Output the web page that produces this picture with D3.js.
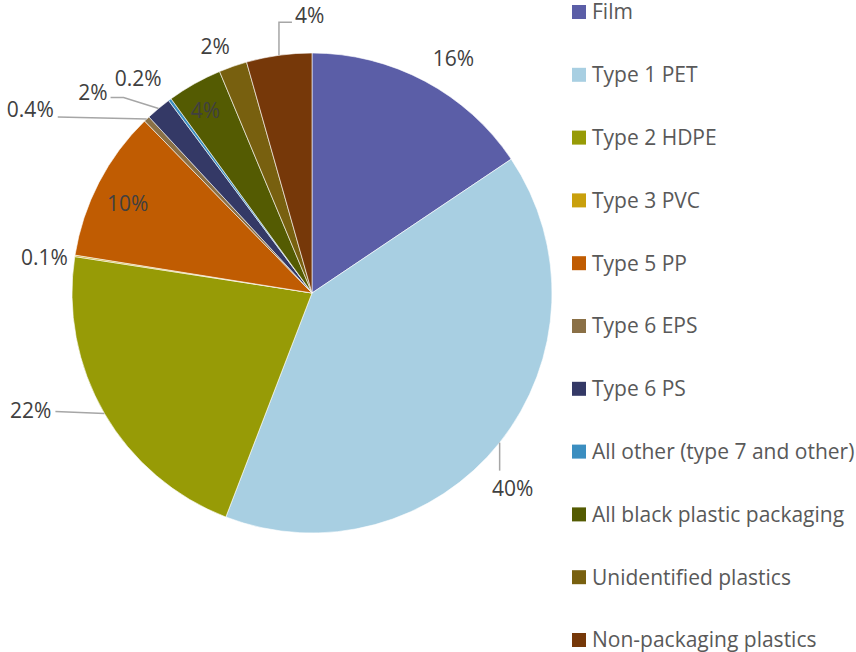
<!DOCTYPE html>
<html>
<head>
<meta charset="utf-8">
<script src="https://cdn.jsdelivr.net/npm/d3@7"></script>
<style>
  html, body { margin: 0; padding: 0; background: #fff; }
  svg { display: block; }
  text { font-family: "Open Sans", Lato, sans-serif; }
</style>
</head>
<body>
<svg id="chart" width="856" height="652"></svg>
<script>
// ---- data ----
const categories = ["Film", "Type 1 PET", "Type 2 HDPE", "Type 3 PVC", "Type 5 PP", "Type 6 EPS",
  "Type 6 PS", "All other (type 7 and other)", "All black plastic packaging", "Unidentified plastics",
  "Non-packaging plastics"];
const shares = [15.6, 40.3, 21.6, 0.1, 10.2, 0.4, 1.7, 0.2, 3.7, 1.9, 4.4];
const shareLabels = ["16%", "40%", "22%", "0.1%", "10%", "0.4%", "2%", "0.2%", "4%", "2%", "4%"];
const colors = ["#5B5EA7", "#A8CFE2", "#979B06", "#C9A00C", "#C05C02", "#8A7046",
  "#343966", "#3B8EC0", "#545B02", "#78600F", "#763809"];

// ---- layout (label placement relative to each slice's mid angle) ----
const labelLayout = [
  {R: 274, dA: 3, anchor: "middle"},
  {leader: [[0, 0], [0, 28]], lx: 13, ly: 46, anchor: "middle"},
  {leader: [[0, 0], [-49, -2]], lx: -53, ly: -3, anchor: "end"},
  {R: 270, dA: -1.3, anchor: "middle"},
  {R: 205, dA: -1.5, anchor: "middle"},
  {leader: [[0, 0], [-89, -2]], lx: -93, ly: -9, anchor: "end"},
  {leader: [[0, 0], [-35, -11], [-48, -11]], lx: -51, ly: -16, anchor: "end"},
  {R: 276, dA: -2.7, anchor: "middle"},
  {R: 211, dA: -1, anchor: "middle"},
  {R: 265, dA: -2.2, anchor: "middle"},
  {leader: [[0, 0], [0, -33], [13, -33]], lx: 16, ly: -40, anchor: "start"}
];

const W = 856, H = 652;
const cx = 312, cy = 293, r = 240;
const fs = 21;
const svg = d3.select("#chart");

const pie = d3.pie().sort(null).value(d => d.v);
const data = categories.map((c, i) => ({c, v: shares[i], lab: shareLabels[i], col: colors[i], lay: labelLayout[i]}));
const arcs = pie(data);
const arc = d3.arc().innerRadius(0).outerRadius(r);

const g = svg.append("g").attr("transform", `translate(${cx},${cy})`);
g.selectAll("path.slice").data(arcs).join("path")
  .attr("class", "slice")
  .attr("d", arc)
  .attr("fill", d => d.data.col)
  .attr("stroke", "#fff")
  .attr("stroke-width", 0.6);

function polar(angle, rad) {
  return [rad * Math.sin(angle), -rad * Math.cos(angle)];
}

arcs.forEach(a => {
  const lay = a.data.lay;
  const mid = (a.startAngle + a.endAngle) / 2;
  let x, y;
  if (lay.leader) {
    const s = polar(mid, r);
    const pts = lay.leader.map(p => [s[0] + p[0], s[1] + p[1]]);
    g.append("polyline")
      .attr("points", pts.map(p => p.join(",")).join(" "))
      .attr("fill", "none")
      .attr("stroke", "#A6A6A6")
      .attr("stroke-width", 1.5);
    x = s[0] + lay.lx; y = s[1] + lay.ly;
  } else {
    [x, y] = polar(mid + lay.dA * Math.PI / 180, lay.R);
  }
  g.append("text")
    .attr("x", x).attr("y", y)
    .attr("dy", "0.35em")
    .attr("text-anchor", lay.anchor)
    .attr("font-size", fs)
    .attr("fill", "#404040")
    .text(a.data.lab);
});

// ---- legend ----
const legY = d3.scalePoint().domain(categories).range([12, 640]);
const leg = svg.append("g");
const items = leg.selectAll("g").data(data).join("g")
  .attr("transform", d => `translate(572,${legY(d.c)})`);
items.append("rect")
  .attr("x", 0).attr("y", -7).attr("width", 14).attr("height", 14)
  .attr("fill", d => d.col);
items.append("text")
  .attr("x", 20).attr("y", 0).attr("dy", "0.35em")
  .attr("font-size", fs)
  .attr("fill", "#595959")
  .text(d => d.c);
</script>
</body>
</html>
